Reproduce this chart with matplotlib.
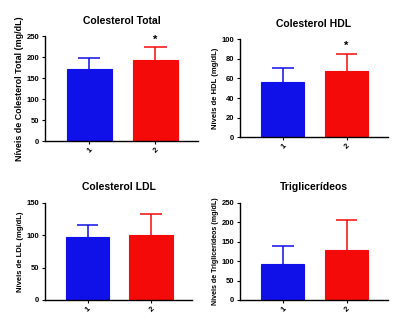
import matplotlib
matplotlib.use("Agg")
import matplotlib.pyplot as plt

plt.rcParams['font.family'] = ['Liberation Sans', 'DejaVu Sans']
plt.rcParams['font.weight'] = 'bold'

grupos = ['1', '2']
cores = ['#1010e8', '#f50a0a']

titulos = ['Colesterol Total', 'Colesterol HDL', 'Colesterol LDL', 'Triglicerídeos']
ylabels = ['Níveis de Colesterol Total (mg/dL)', 'Níveis de HDL (mg/dL)',
           'Níveis de LDL (mg/dL)', 'Níveis de Triglicerídeos (mg/dL)']
medias_ct = [171, 193]
erros_ct = [26, 30]
medias_hdl = [56, 68]
erros_hdl = [14.5, 17]
medias_ldl = [97.5, 100]
erros_ldl = [18.5, 32.5]
medias_tg = [92.5, 128.5]
erros_tg = [47, 75.5]
ylims = [250, 100, 150, 250]
yticks_step = [50, 20, 50, 50]
signif = [[False, True], [False, True], [False, False], [False, False]]

medias = [medias_ct, medias_hdl, medias_ldl, medias_tg]
erros = [erros_ct, erros_hdl, erros_ldl, erros_tg]

fig = plt.figure(figsize=(4, 3.28), dpi=100)
posicoes = [
    [0.1125, 0.570, 0.383, 0.320],
    [0.600, 0.582, 0.370, 0.298],
    [0.1125, 0.0854, 0.368, 0.297],
    [0.600, 0.0854, 0.370, 0.297],
]
ylabel_tam = [6.4, 5.5, 5.5, 5.1]

for i in range(4):
    ax = fig.add_axes(posicoes[i])
    x = range(len(grupos))
    for j in x:
        topo = medias[i][j] + erros[i][j]
        ax.bar(j, medias[i][j], width=0.68, color=cores[j], edgecolor=cores[j], linewidth=0.8, zorder=2)
        # barra de erro só para cima (estilo GraphPad)
        ax.vlines(j, medias[i][j], topo, color=cores[j], linewidth=1.1, zorder=1)
        ax.hlines(topo, j - 0.17, j + 0.17, color=cores[j], linewidth=1.1, zorder=1)
        if signif[i][j]:
            ax.annotate('*', (j, topo), xytext=(0, 2),
                        textcoords='offset points', ha='center', va='bottom',
                        fontsize=8, fontweight='bold')
    ax.set_xlim(-0.67, 1.65)
    ax.set_ylim(0, ylims[i])
    ax.set_yticks(range(0, ylims[i] + 1, yticks_step[i]))
    ax.set_xticks(list(x))
    ax.set_xticklabels(grupos, rotation=45, ha='right', rotation_mode='anchor')
    ax.spines['top'].set_visible(False)
    ax.spines['right'].set_visible(False)
    ax.spines['left'].set_linewidth(1.0)
    ax.spines['bottom'].set_linewidth(1.0)
    ax.tick_params(axis='both', labelsize=5.5, length=2.5, width=0.8, pad=1.5)
    ax.set_title(titulos[i], fontsize=7.5, fontweight='bold', pad=9)
    ax.set_ylabel(ylabels[i], fontsize=ylabel_tam[i], fontweight='bold', labelpad=2)

fig.savefig('out.png', dpi=100)
